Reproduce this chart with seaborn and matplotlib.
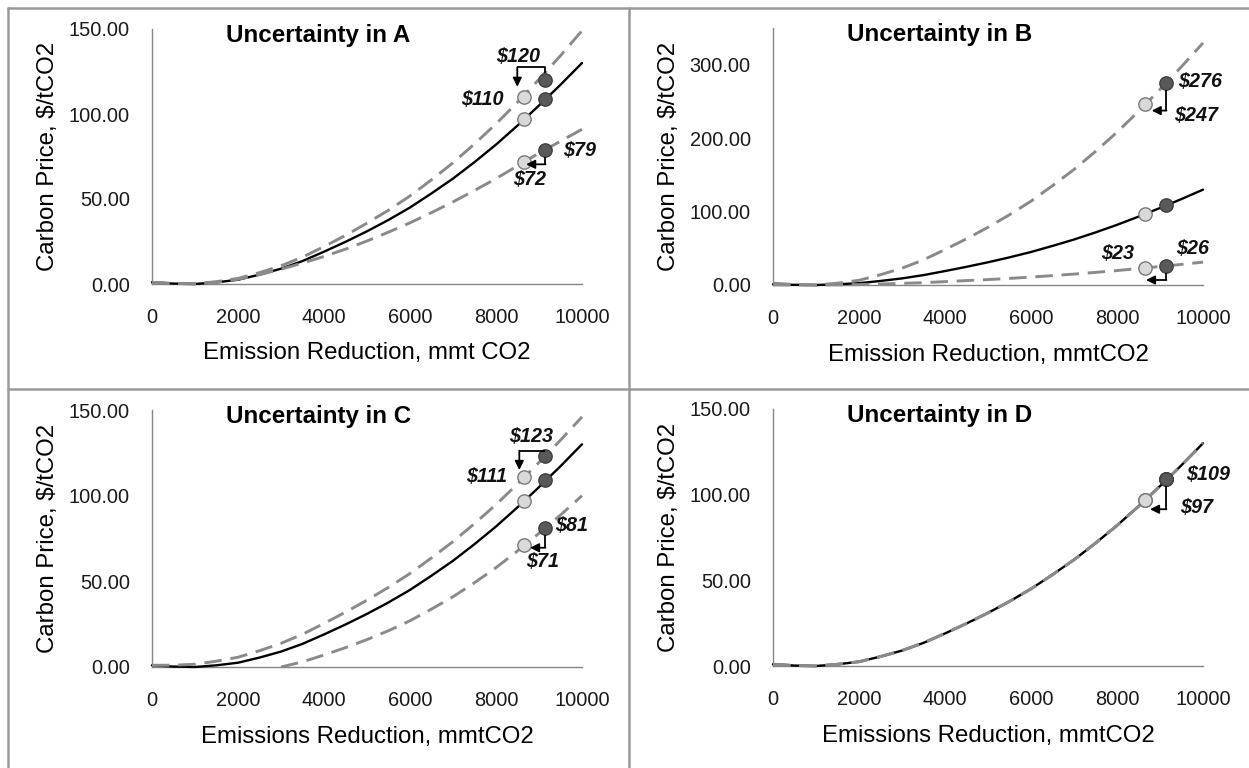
import numpy as np
import pandas as pd
import matplotlib
matplotlib.use("Agg")
import matplotlib.pyplot as plt
from matplotlib.lines import Line2D
import seaborn as sns

# ---- data -----------------------------------------------------------------
reduction = [0, 500, 1000, 1500, 2000, 2500, 3000, 3500, 4000, 4500, 5000,
             5500, 6000, 6500, 7000, 7500, 8000, 8500, 9000, 9500, 10000]

base_price = [1.0, 0.25, 0.0, 1.0, 2.5, 5.5, 9.0, 13.5, 19.0, 24.8, 31.0,
              37.7, 45.0, 53.3, 62.0, 71.7, 82.0, 93.2, 105.0, 117.2, 130.0]

a_high = [1.0, 0.3, 0.2, 1.4, 3.3, 6.7, 10.7, 15.8, 22.0, 28.6, 35.8,
          43.4, 51.8, 61.3, 71.3, 82.4, 94.2, 106.9, 120.4, 134.3, 149.0]
a_low = [1.0, 0.25, 0.0, 0.9, 2.8, 5.5, 8.7, 12.3, 16.2, 20.5, 25.3,
         30.5, 36.0, 42.0, 48.3, 55.0, 62.0, 69.5, 77.0, 84.0, 91.0]

b_high = [2.5, 0.6, 0.0, 2.5, 6.4, 14.0, 22.9, 34.3, 48.3, 63.0, 78.7,
          95.8, 114.3, 135.4, 157.5, 182.1, 208.3, 236.7, 266.7, 297.7, 330.0]
b_low = [0.24, 0.05, 0.0, 0.24, 0.6, 1.3, 2.2, 3.2, 4.6, 6.0, 7.4,
         9.0, 10.8, 12.8, 14.9, 17.2, 19.7, 22.4, 25.2, 28.1, 31.2]

c_high = [1.0, 1.05, 1.6, 3.4, 5.7, 9.5, 13.8, 19.1, 25.4, 32.0, 39.0,
          46.5, 54.6, 63.7, 73.2, 83.7, 94.8, 106.8, 119.4, 132.4, 146.0]
c_low = [np.nan, np.nan, np.nan, np.nan, np.nan, np.nan, 0.0, 3.0, 7.0, 11.3, 16.0,
         21.2, 27.0, 33.8, 41.0, 49.2, 58.0, 67.7, 78.0, 88.7, 100.0]

d_high = [1.0, 0.25, 0.0, 1.0, 2.5, 5.5, 9.0, 13.5, 19.0, 24.8, 31.0,
          37.7, 45.0, 53.3, 62.0, 71.7, 82.0, 93.2, 105.0, 117.2, 130.0]
d_low = [1.0, 0.25, 0.0, 1.0, 2.5, 5.5, 9.0, 13.5, 19.0, 24.8, 31.0,
         37.7, 45.0, 53.3, 62.0, 71.7, 82.0, 93.2, 105.0, 117.2, 130.0]

# reduction levels of the two highlighted points
point_x = [8650, 9150]
# prices at those points: (high, base, low)
a_points_first = [110, 97, 72]
a_points_second = [120, 109, 79]
b_points_first = [247, 97, 23]
b_points_second = [276, 109, 26]
c_points_first = [111, 97, 71]
c_points_second = [123, 109, 81]
d_points_first = [97, 97, 97]
d_points_second = [109, 109, 109]

titles = ["Uncertainty in A", "Uncertainty in B", "Uncertainty in C", "Uncertainty in D"]
x_labels = ["Emission Reduction, mmt CO2", "Emission Reduction, mmtCO2",
            "Emissions Reduction, mmtCO2", "Emissions Reduction, mmtCO2"]
y_label = r"Carbon Price, \$/tCO2"
x_ticks = [0, 2000, 4000, 6000, 8000, 10000]

# ---- style ----------------------------------------------------------------
sns.set_theme(style="white")
plt.rcParams["font.family"] = ["Liberation Sans", "DejaVu Sans"]

W, H = 1249, 768
fig = plt.figure(figsize=(W / 100, H / 100), dpi=100)
fig.patch.set_facecolor("white")

def fx(px):
    return px / W

def fy(py):
    return 1 - py / H

# panel frames
frame_col = "#9a9a9a"
for xs, ys in [([8, 8], [8, 768]), ([629, 629], [8, 768]),
               ([8, 1249], [8, 8]), ([8, 1249], [389, 389])]:
    fig.add_artist(Line2D([fx(v) for v in xs], [fy(v) for v in ys],
                          transform=fig.transFigure, color=frame_col, lw=1.8))

panels = [
    dict(rect=[fx(152), fy(284), 430 / W, 255 / H], ymax=150, yticks=[0, 50, 100, 150],
         high=a_high, low=a_low, first=a_points_first, second=a_points_second,
         arrows=[[(9150, 124), (9150, 127.5), (8495, 127.5), (8495, 116)],
                 [(9150, 75), (9150, 70.4), (8700, 70.4)]],
         labels=[(0, 1, 8512, 133.7), (0, 0, 7674, 108.8), (2, 1, 9953, 78.4), (2, 0, 8791, 61.2)]),
    dict(rect=[fx(773), fy(285), 430 / W, 256.7 / H], ymax=350, yticks=[0, 100, 200, 300],
         high=b_high, low=b_low, first=b_points_first, second=b_points_second,
         arrows=[[(9150, 266.5), (9150, 237.8), (8807, 237.8)],
                 [(9150, 16.5), (9150, 6.8), (8674, 6.8)]],
         labels=[(0, 1, 9930, 276.8), (0, 0, 9837, 230.5), (2, 0, 8023, 42.3), (2, 1, 9767, 49.1)]),
    dict(rect=[fx(152), fy(667), 430 / W, 257 / H], ymax=150, yticks=[0, 50, 100, 150],
         high=c_high, low=c_low, first=c_points_first, second=c_points_second,
         arrows=[[(9150, 126.3), (8542, 126.3), (8542, 115)],
                 [(9150, 77), (9150, 69.6), (8791, 69.6)]],
         labels=[(0, 1, 8807, 134.4), (0, 0, 7784, 110.9), (2, 1, 9760, 82.3), (2, 0, 9093, 61.5)]),
    dict(rect=[fx(773), fy(666), 430 / W, 257 / H], ymax=150, yticks=[0, 50, 100, 150],
         high=d_high, low=d_low, first=d_points_first, second=d_points_second,
         arrows=[[(9150, 105), (9150, 91.5), (8767, 91.5)]],
         labels=[(1, 1, 10116, 111.5), (1, 0, 9860, 92.8)]),
]

spine_col = "#868686"
dash_col = "#8a8a8a"
light_face, light_edge = "#d9d9d9", "#7a7a7a"
dark_face, dark_edge = "#595959", "#404040"

for i, p in enumerate(panels):
    ax = fig.add_axes(p["rect"])
    ax.set_facecolor("white")

    sns.lineplot(x=reduction, y=base_price, ax=ax, color="black", lw=1.7,
                 estimator=None, sort=False, zorder=3, clip_on=False)
    for series in (p["high"], p["low"]):
        df = pd.DataFrame({"reduction": reduction, "price": series}).dropna()
        sns.lineplot(data=df, x="reduction", y="price", ax=ax, color=dash_col, lw=2.1,
                     estimator=None, sort=False, zorder=4, clip_on=False)
        ax.lines[-1].set_dashes((6.0, 3.0))

    sns.scatterplot(x=[point_x[0]] * 3, y=p["first"], ax=ax, s=92, color=light_face,
                    edgecolor=light_edge, linewidth=1.0, zorder=6, clip_on=False)
    sns.scatterplot(x=[point_x[1]] * 3, y=p["second"], ax=ax, s=92, color=dark_face,
                    edgecolor=dark_edge, linewidth=1.0, zorder=6, clip_on=False)

    for path in p["arrows"]:
        xs = [pt[0] for pt in path]
        ys = [pt[1] for pt in path]
        ax.plot(xs[:-1], ys[:-1], color="black", lw=1.3, zorder=7, clip_on=False,
                solid_capstyle="butt")
        ax.annotate("", xy=path[-1], xytext=path[-2],
                    arrowprops=dict(arrowstyle="-|>", color="black", lw=1.3,
                                    mutation_scale=13, shrinkA=0, shrinkB=0),
                    zorder=7, annotation_clip=False)

    for row, col, lx, ly in p["labels"]:
        val = (p["first"], p["second"])[col][row]
        ax.text(lx, ly, rf"\${val:.0f}", ha="center", va="center", fontsize=14.2,
                fontweight="bold", fontstyle="italic", color="#111111", zorder=8)

    ax.set_xlim(0, 10000)
    ax.set_ylim(0, p["ymax"])
    ax.set_xticks(x_ticks)
    ax.set_xticklabels([f"{t:d}" for t in x_ticks])
    ax.set_yticks(p["yticks"])
    ax.set_yticklabels([f"{t:.2f}" for t in p["yticks"]])

    for side in ("top", "right"):
        ax.spines[side].set_visible(False)
    for side in ("left", "bottom"):
        ax.spines[side].set_color(spine_col)
        ax.spines[side].set_linewidth(1.0)
        ax.spines[side].set_zorder(2)

    ax.tick_params(axis="both", direction="out", length=5, width=1.0, color=spine_col,
                   labelsize=14.4, labelcolor="#1a1a1a")
    ax.tick_params(axis="x", pad=12)
    ax.tick_params(axis="y", pad=11)
    ax.grid(False)

    ax.set_xlabel(x_labels[i], fontsize=17.3, color="black")
    ax.set_ylabel(y_label, fontsize=17.3, color="black")
    ax.xaxis.set_label_coords(0.5, -0.228)
    ax.yaxis.set_label_coords(-0.217, 0.5)

    ax.text(0.387, 0.976, titles[i], transform=ax.transAxes, ha="center", va="center",
            fontsize=17.4, fontweight="bold", color="black")

fig.savefig("out.png", dpi=100, facecolor="white")
